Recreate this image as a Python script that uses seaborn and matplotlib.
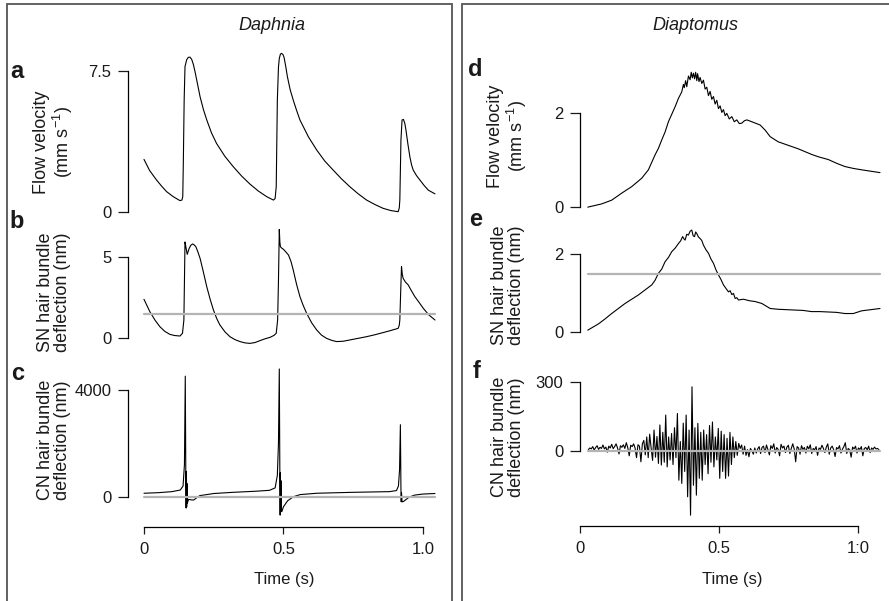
import numpy as np
import pandas as pd
import matplotlib
matplotlib.use("Agg")
import matplotlib.pyplot as plt
import seaborn as sns
from matplotlib.patches import Rectangle

# ---- Daphnia: flow velocity (mm/s) ----
daph_flow_t = [0.000, 0.020, 0.045, 0.065, 0.081, 0.105, 0.129, 0.136, 0.139, 0.141, 0.144, 0.147, 0.153,
               0.159, 0.165, 0.171, 0.177, 0.183, 0.192, 0.201, 0.213, 0.225, 0.242, 0.260, 0.290, 0.320,
               0.350, 0.380, 0.410, 0.440, 0.464, 0.470, 0.474, 0.478, 0.482, 0.485, 0.489, 0.493, 0.498,
               0.502, 0.508, 0.514, 0.524, 0.535, 0.547, 0.559, 0.589, 0.619, 0.648, 0.678, 0.708, 0.738,
               0.768, 0.798, 0.828, 0.857, 0.885, 0.911, 0.915, 0.917, 0.919, 0.921, 0.925, 0.930, 0.935,
               0.939, 0.946, 0.953, 0.959, 0.965, 0.977, 0.989, 1.004, 1.019, 1.043]
daph_flow_v = [2.79, 2.20, 1.69, 1.33, 1.07, 0.80, 0.59, 0.62, 0.80, 2.60, 5.95, 7.73, 8.10,
               8.23, 8.24, 8.12, 7.85, 7.46, 6.80, 6.13, 5.45, 4.89, 4.20, 3.64, 2.95, 2.40,
               1.90, 1.47, 1.10, 0.80, 0.62, 0.70, 1.33, 5.95, 7.70, 8.17, 8.40, 8.44, 8.38,
               8.23, 7.75, 7.20, 6.50, 5.95, 5.40, 4.89, 4.00, 3.29, 2.70, 2.22, 1.75, 1.33,
               0.95, 0.62, 0.38, 0.18, 0.06, 0.00, 0.20, 0.62, 2.20, 3.82, 4.89, 4.92, 4.70,
               4.35, 3.60, 2.93, 2.50, 2.22, 1.92, 1.69, 1.40, 1.15, 0.95]

# ---- Daphnia: SN hair bundle deflection (nm) ----
daph_sn_t = [0.000, 0.021, 0.040, 0.057, 0.075, 0.093, 0.110, 0.129, 0.138, 0.143, 0.145, 0.147, 0.150,
             0.155, 0.162, 0.168, 0.174, 0.180, 0.186, 0.193, 0.201, 0.213, 0.225, 0.237, 0.249, 0.261,
             0.272, 0.290, 0.308, 0.326, 0.344, 0.362, 0.380, 0.398, 0.416, 0.434, 0.452, 0.466, 0.474,
             0.479, 0.482, 0.485, 0.487, 0.489, 0.494, 0.500, 0.509, 0.518, 0.527, 0.535, 0.547, 0.559,
             0.571, 0.583, 0.601, 0.619, 0.636, 0.654, 0.672, 0.690, 0.714, 0.738, 0.768, 0.798, 0.828,
             0.857, 0.885, 0.911, 0.915, 0.917, 0.920, 0.923, 0.926, 0.929, 0.937, 0.947, 0.959, 0.971,
             0.986, 1.001, 1.020, 1.043]
daph_sn_v = [2.39, 1.63, 1.10, 0.71, 0.42, 0.24, 0.17, 0.14, 0.31, 1.12, 3.50, 5.90, 5.61,
             5.14, 5.51, 5.70, 5.78, 5.72, 5.61, 5.30, 4.90, 4.05, 3.16, 2.40, 1.73, 1.20,
             0.82, 0.40, 0.10, -0.08, -0.20, -0.28, -0.31, -0.26, -0.14, -0.03, 0.06, 0.18, 0.31,
             1.12, 3.50, 6.67, 5.90, 5.61, 5.52, 5.45, 5.28, 5.10, 4.70, 4.18, 3.30, 2.55,
             2.00, 1.53, 0.95, 0.51, 0.20, 0.00, -0.12, -0.20, -0.18, -0.10, 0.00, 0.10, 0.22,
             0.35, 0.48, 0.61, 0.80, 1.12, 2.80, 4.39, 3.90, 3.67, 3.45, 3.27, 2.90, 2.55,
             2.20, 1.84, 1.45, 1.12]

# ---- Daphnia: CN hair bundle deflection (nm) ----
daph_cn_t = [0.000, 0.050, 0.100, 0.130, 0.140, 0.145, 0.148, 0.150, 0.151, 0.152, 0.153, 0.154, 0.155,
             0.160, 0.170, 0.178, 0.190, 0.200, 0.250, 0.320, 0.400, 0.450, 0.470, 0.478, 0.482, 0.485,
             0.487, 0.488, 0.489, 0.490, 0.491, 0.492, 0.494, 0.500, 0.515, 0.536, 0.560, 0.620, 0.750,
             0.880, 0.905, 0.912, 0.916, 0.919, 0.921, 0.922, 0.923, 0.925, 0.930, 0.940, 0.950, 0.970,
             1.000, 1.043]
daph_cn_v = [130, 150, 190, 250, 400, 1200, 4520, 600, -425, 950, -380, 500, -250,
             -100, -120, -125, -30, 40, 120, 165, 205, 240, 330, 800, 2000, 4790,
             800, -690, 900, -550, 600, -400, -560, -375, -150, 0, 80, 130, 165,
             190, 230, 400, 1000, 2700, 300, -190, 150, -190, -180, -100, -20, 60,
             100, 120]

# ---- Diaptomus: flow velocity (mm/s) ----
diap_flow_t = [0.028, 0.078, 0.114, 0.150, 0.186, 0.222, 0.246, 0.270, 0.282, 0.294, 0.306, 0.318, 0.330,
               0.342, 0.354, 0.366, 0.372, 0.375, 0.380, 0.384, 0.390, 0.396, 0.400, 0.404, 0.408, 0.412,
               0.416, 0.420, 0.423, 0.428, 0.432, 0.438, 0.444, 0.450, 0.456, 0.462, 0.468, 0.474, 0.480,
               0.486, 0.492, 0.498, 0.504, 0.510, 0.516, 0.522, 0.528, 0.537, 0.546, 0.555, 0.564, 0.573,
               0.582, 0.591, 0.600, 0.618, 0.648, 0.666, 0.684, 0.713, 0.737, 0.761, 0.785, 0.809, 0.833,
               0.857, 0.893, 0.923, 0.953, 0.983, 1.013, 1.046, 1.079]
diap_flow_v = [-0.01, 0.06, 0.14, 0.29, 0.43, 0.61, 0.79, 1.11, 1.25, 1.43, 1.60, 1.82, 1.98,
               2.14, 2.32, 2.46, 2.62, 2.55, 2.70, 2.57, 2.80, 2.72, 2.88, 2.76, 2.86, 2.74,
               2.88, 2.70, 2.85, 2.68, 2.77, 2.64, 2.71, 2.52, 2.56, 2.38, 2.47, 2.30, 2.36,
               2.20, 2.28, 2.10, 2.16, 2.02, 2.08, 1.95, 2.00, 1.88, 1.93, 1.82, 1.86, 1.78,
               1.79, 1.84, 1.86, 1.82, 1.75, 1.64, 1.50, 1.39, 1.34, 1.29, 1.24, 1.18, 1.12,
               1.07, 1.01, 0.93, 0.86, 0.82, 0.79, 0.76, 0.73]

# ---- Diaptomus: SN hair bundle deflection (nm) ----
diap_sn_t = [0.028, 0.066, 0.090, 0.114, 0.138, 0.162, 0.186, 0.210, 0.234, 0.258, 0.270, 0.282, 0.294,
             0.306, 0.318, 0.330, 0.342, 0.354, 0.362, 0.369, 0.374, 0.378, 0.384, 0.390, 0.396, 0.402,
             0.407, 0.412, 0.416, 0.420, 0.426, 0.432, 0.438, 0.444, 0.453, 0.462, 0.471, 0.480, 0.489,
             0.498, 0.507, 0.516, 0.525, 0.534, 0.540, 0.546, 0.552, 0.558, 0.564, 0.570, 0.588, 0.610,
             0.630, 0.654, 0.684, 0.713, 0.743, 0.773, 0.803, 0.833, 0.863, 0.893, 0.923, 0.953, 0.983,
             1.013, 1.046, 1.079]
diap_sn_v = [0.04, 0.20, 0.33, 0.47, 0.60, 0.73, 0.84, 0.95, 1.08, 1.21, 1.33, 1.51, 1.62,
             1.81, 1.92, 2.07, 2.16, 2.28, 2.35, 2.46, 2.40, 2.37, 2.52, 2.50, 2.60, 2.63,
             2.48, 2.46, 2.58, 2.54, 2.45, 2.41, 2.36, 2.24, 2.12, 2.03, 1.88, 1.77, 1.60,
             1.47, 1.35, 1.21, 1.12, 1.03, 1.06, 0.96, 0.99, 0.86, 0.88, 0.82, 0.84, 0.80,
             0.78, 0.73, 0.60, 0.58, 0.57, 0.56, 0.55, 0.52, 0.52, 0.51, 0.50, 0.47, 0.47,
             0.54, 0.57, 0.60]

# ---- Diaptomus: CN hair bundle deflection (nm), evenly sampled 0.03-1.075 s ----
diap_cn_v = [5, 12, 8, 18, 3, 14, 22, 6, 15, 10, 25, 8, 16, -6, 20, 12, 28, 9, 18, 30, 12, -14, 22, 15,
             26, 10, 35, 14, -22, 24, 18, 30, 12, -30, 26, 20,
             -48, 30, 45, -18, 60, -30, 72, 12, -42, 90, -28, 62, -55, 112, -62,
             80, -50, 155, -70, 60, -40, 75, -60, 100, -30, 162, -128, 40, -142, 120, -90, 155, -200, 90,
             -280, 278, -150, 100, -193, 119,
             -120, 80, -128, 90, -60, 70, -100, 110, -50, 125, -70, 60, -40, 97, -120, 85, -90, 70, -120,
             54, -110, 80, -60, 60, -30, 40, -20, 32, 10, 25, -15, 20,
             -20, 5, -26, 10, 0, -15, 12, -10, 8, 18, -12, 15, 20, -8, 25, 5, -18, 22, 10, 30, -10, 14,
             6, -22, 28, 12, 20, -8, 16, 24, -12, 10, 30, 8, -48, 18, 12, -15, 22, 6, 14, -10, 20, 8, 26,
             -12, 10, 4, 18, -20, 12, 6, 24, 10, -8, 16, 30, -15, 12, 20, 5, -25, 14, 8, 22, -10, 6, 18,
             35, -12, 10, 4, -28, 16, 8, 20, -10, 12, 6, 18, -22, 10, 14, 4, 20, -8, 12, 6, 16, 8, 10, 5]
diap_cn_t = np.linspace(0.03, 1.075, len(diap_cn_v))

threshold_sn = 1.5
x_ticks = [0, 0.5, 1.0]
left_xticklabels = ["0", "0.5", "1.0"]
right_xticklabels = ["0", "0.5", "1:0"]

sns.set_style("ticks")
plt.rcParams['font.family'] = ['Liberation Sans', 'DejaVu Sans']
plt.rcParams['mathtext.fontset'] = 'custom'
plt.rcParams['mathtext.rm'] = 'Liberation Sans'
plt.rcParams['axes.edgecolor'] = 'black'
plt.rcParams['axes.linewidth'] = 0.9

W, H = 889, 601
fig = plt.figure(figsize=(W / 100, H / 100), dpi=100)
TXT = '#1a1a1a'


def panel(x0, x1, y0, y1, xlim, ylim, ytop, ytoplabel, xaxis=False, xlabels=None):
    ax = fig.add_axes([x0 / W, 1 - y1 / H, (x1 - x0) / W, (y1 - y0) / H])
    ax.set_facecolor('none')
    ax.set_xlim(*xlim)
    ax.set_ylim(*ylim)
    for s in ['top', 'right']:
        ax.spines[s].set_visible(False)
    ax.spines['left'].set_bounds(0, ytop)
    ax.set_yticks([0, ytop])
    ax.set_yticklabels(["0", ytoplabel])
    ax.tick_params(axis='y', length=7, width=0.9, pad=5, labelsize=12, colors=TXT)
    if xaxis:
        ax.spines['bottom'].set_bounds(0, 1.0)
        ax.set_xticks(x_ticks)
        ax.set_xticklabels(xlabels)
        ax.tick_params(axis='x', length=5, width=0.9, pad=6, labelsize=12, colors=TXT)
    else:
        ax.spines['bottom'].set_visible(False)
        ax.set_xticks([])
    return ax


def trace(ax, t, v):
    sns.lineplot(x=t, y=v, ax=ax, color='black', lw=0.8, estimator=None, sort=False,
                 legend=False, clip_on=False)


def grayline(ax, y, t0, t1):
    ax.plot([t0, t1], [y, y], color='#b4b4b4', lw=1.6, zorder=5)


lx = (-0.0573, 1.061)
rx = (0.0, 1.097)

# Daphnia column
ax_a = panel(128, 440, 50, 215, lx, (-0.176, 8.62), 7.5, "7.5")
trace(ax_a, daph_flow_t, daph_flow_v)

ax_b = panel(128, 440, 225, 350, lx, (-0.716, 6.94), 5, "5")
trace(ax_b, daph_sn_t, daph_sn_v)
grayline(ax_b, threshold_sn, 0, 1.043)

ax_c = panel(128, 440, 360, 526.5, lx, (-1117, 5126), 4000, "4000", True, left_xticklabels)
trace(ax_c, daph_cn_t, daph_cn_v)
grayline(ax_c, 0, 0, 1.043)

# Diaptomus column
ax_d = panel(580, 885, 55, 215, rx, (-0.178, 3.25), 2, "2")
trace(ax_d, diap_flow_t, diap_flow_v)

ax_e = panel(580, 885, 225, 345, rx, (-0.344, 2.76), 2, "2")
trace(ax_e, diap_sn_t, diap_sn_v)
grayline(ax_e, threshold_sn, 0.028, 1.079)

ax_f = panel(580, 885, 365, 526, rx, (-327, 372.6), 300, "300", True, right_xticklabels)
trace(ax_f, diap_cn_t, diap_cn_v)
grayline(ax_f, 0, 0.028, 1.079)

for ax in [ax_a, ax_b, ax_c, ax_d, ax_e, ax_f]:
    ax.set_xlabel('')
    ax.set_ylabel('')
for ax in [ax_c, ax_f]:
    ax.set_xlabel('Time (s)', fontsize=12, color=TXT, labelpad=11)


def ftext(x, y, s, **kw):
    fig.text(x / W, 1 - y / H, s, color=TXT, **kw)


# y labels
lab_flow = 'Flow velocity\n(mm s$^{\\mathregular{-1}}$)'
lab_sn = 'SN hair bundle\ndeflection (nm)'
lab_cn = 'CN hair bundle\ndeflection (nm)'
for x, y, s in [(54, 142, lab_flow), (54, 292, lab_sn), (54, 440, lab_cn),
                (508, 136, lab_flow), (508, 285, lab_sn), (508, 437, lab_cn)]:
    ftext(x, y, s, rotation=90, ha='center', va='center', fontsize=13,
          linespacing=1.0, multialignment='center')

# panel letters
for x, y, s in [(17, 72, 'a'), (17, 222, 'b'), (18, 373, 'c'),
                (475, 70, 'd'), (476, 220, 'e'), (477, 372, 'f')]:
    ftext(x, y, s, ha='center', va='center', fontsize=17, fontweight='bold')

# column titles
ftext(272, 26, 'Daphnia', ha='center', va='center', fontsize=13, style='italic')
ftext(695, 26, 'Diaptomus', ha='center', va='center', fontsize=13, style='italic')

# panel frames
for x0, x1 in [(7, 452), (462, 900)]:
    fig.add_artist(Rectangle((x0 / W, -0.05), (x1 - x0) / W, 1.05 - 4 / H,
                             transform=fig.transFigure, fill=False,
                             edgecolor='#555555', lw=1.3))

fig.savefig('out.png', dpi=100)
